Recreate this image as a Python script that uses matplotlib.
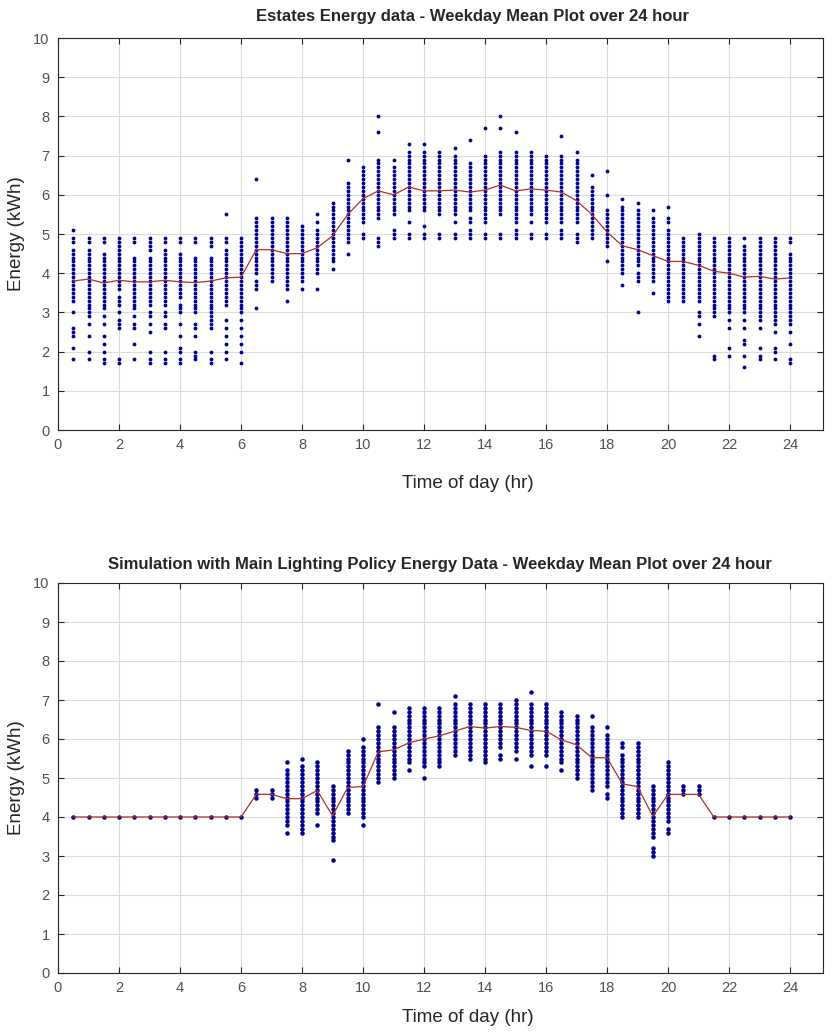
import numpy as np
import matplotlib
matplotlib.use("Agg")
import matplotlib.pyplot as plt

plt.rcParams['font.family'] = ['Liberation Sans', 'DejaVu Sans']

# half-hour slots
hours = [0.5 * i for i in range(1, 49)]

# estates readings per slot, in tenths of kWh
estates_pts = [
    [18,21,24,25,26,30,33,34,35,36,37,38,39,40,41,42,43,44,45,46,48,49,51],
    [18,20,24,27,29,30,31,32,33,34,35,36,37,38,39,40,41,42,43,44,45,46,48,49],
    [17,18,20,22,24,27,29,31,32,33,34,35,36,37,38,39,40,41,42,43,44,45,48,49],
    [17,18,26,27,28,30,32,33,34,36,37,38,39,40,41,42,43,44,45,46,47,48,49],
    [18,22,26,27,29,31,32,33,34,35,36,37,38,39,40,41,42,43,44,48,49],
    [17,18,20,25,27,29,30,32,33,34,35,36,37,38,39,40,41,42,43,44,46,47,48,49],
    [17,18,20,26,27,29,30,32,33,34,35,36,37,38,39,40,41,42,43,44,45,46,48,49],
    [17,18,20,21,24,27,30,31,32,34,35,36,37,38,39,40,41,42,43,44,45,48,49],
    [18,19,20,24,26,27,30,31,32,33,34,35,36,37,38,39,40,41,42,43,44,48,49],
    [17,18,20,26,27,28,29,30,31,32,33,34,35,36,37,38,39,40,41,42,43,44,47,48,49],
    [18,20,22,24,26,28,32,33,34,35,36,37,38,39,40,41,42,43,44,45,46,48,49,55],
    [17,20,22,24,26,28,30,31,32,33,34,35,36,37,38,39,40,41,42,43,44,45,46,47,48,49],
    [31,36,37,38,40,41,42,43,44,45,46,47,48,49,50,51,52,53,54,64],
    [38,39,40,41,42,43,44,45,46,47,48,49,50,51,52,53,54],
    [33,36,37,38,39,40,41,42,43,44,45,46,47,48,49,50,51,52,53,54],
    [36,38,39,40,41,42,43,44,45,46,47,48,49,50,51,52],
    [36,40,41,42,43,44,45,46,47,48,49,50,51,53,55],
    [41,43,44,45,46,47,48,49,50,51,52,53,54,55,56,57,58],
    [45,48,49,50,51,52,53,54,55,56,57,58,59,60,61,62,63,69],
    [49,50,53,54,55,56,57,58,59,60,61,62,63,64,65,66,67],
    [47,48,49,54,55,56,57,58,59,60,61,62,63,64,65,66,67,68,69,76,80],
    [49,50,51,55,56,57,58,59,60,61,62,63,64,65,66,67,69],
    [49,50,53,56,57,58,59,60,61,62,63,64,65,66,67,68,69,70,71,73],
    [49,50,52,56,57,58,59,60,61,62,63,64,65,66,67,68,69,70,71,73],
    [49,50,55,56,57,58,59,60,61,62,63,64,65,66,67,68,69,70,71],
    [49,50,53,55,56,57,58,59,60,61,62,63,64,65,66,67,68,69,70,72],
    [49,50,51,53,54,56,57,58,59,60,61,62,63,64,65,66,67,68,74],
    [49,50,53,54,55,56,57,58,59,60,61,62,63,64,65,66,67,68,69,70,77],
    [49,50,55,56,57,58,59,60,61,62,63,64,65,66,67,68,69,70,71,77,80],
    [49,50,51,53,54,55,56,57,58,59,60,61,62,63,64,65,66,67,68,69,70,71,76],
    [49,50,53,55,56,57,58,59,60,61,62,63,64,65,66,67,68,69,70,71],
    [49,50,53,54,55,56,57,58,59,60,61,62,63,64,65,66,67,68,69,70],
    [49,50,51,53,54,55,56,57,58,59,60,61,62,63,64,65,66,67,68,69,70,75],
    [48,49,50,53,54,55,56,57,58,59,60,61,62,63,64,65,66,67,68,69,71],
    [49,50,51,52,53,54,55,56,57,58,59,60,61,62,65],
    [43,47,48,49,50,51,52,53,54,55,56,60,66],
    [37,40,41,42,43,44,45,46,47,48,49,50,51,52,53,54,55,56,57,59],
    [30,38,39,40,42,43,44,45,46,47,48,49,50,51,52,53,54,55,56,58],
    [35,38,39,40,41,42,43,44,45,46,47,48,49,50,51,52,53,54,56],
    [33,34,35,36,37,38,39,40,41,42,43,44,45,46,47,48,49,50,51,53,54,57],
    [33,34,35,36,37,38,39,40,41,42,43,44,45,46,47,48,49],
    [24,27,29,30,33,34,35,36,37,38,39,40,41,42,43,44,45,46,47,48,49,50],
    [18,19,29,30,31,32,33,34,35,36,37,38,39,40,41,42,43,44,45,46,47,48,49],
    [19,21,26,28,30,31,32,33,34,35,36,37,38,39,40,41,42,43,44,45,46,47,48,49],
    [16,19,22,23,26,28,30,31,32,33,34,35,36,37,38,39,40,41,42,43,44,45,46,47,49],
    [18,19,21,26,28,29,30,31,32,33,34,35,36,37,38,39,40,41,42,43,44,45,46,47,48,49],
    [18,20,21,25,27,28,29,30,31,32,33,34,35,36,37,38,39,40,41,42,43,44,45,46,47,48,49],
    [17,18,22,25,27,28,29,30,31,32,33,34,35,36,37,38,39,40,41,42,43,44,45,48,49],
]
estates_mean = [3.80, 3.85, 3.75, 3.82, 3.78, 3.78, 3.82, 3.78, 3.76, 3.80, 3.88, 3.90,
                4.60, 4.60, 4.50, 4.50, 4.65, 4.95, 5.50, 5.90, 6.10, 6.00, 6.20, 6.10,
                6.10, 6.12, 6.07, 6.12, 6.25, 6.10, 6.15, 6.12, 6.07, 5.85, 5.50, 5.05,
                4.70, 4.60, 4.45, 4.30, 4.30, 4.20, 4.05, 4.00, 3.90, 3.92, 3.85, 3.88]

# simulation readings per slot, in tenths of kWh
sim_pts = [
    [40], [40], [40], [40], [40], [40], [40], [40], [40], [40], [40], [40],
    [45,46,47],
    [45,46,47],
    [36,38,39,40,41,42,43,44,45,46,47,48,49,50,51,52,54],
    [36,37,38,39,40,41,42,43,44,45,46,47,48,49,50,51,52,53,55],
    [38,41,42,43,44,45,46,47,48,49,50,51,52,53,54],
    [29,34,35,36,37,38,39,40,41,42,43,44,45,46,47,48],
    [41,42,43,44,45,46,47,48,49,50,51,52,53,54,55,56,57],
    [38,40,41,42,43,44,45,46,47,48,49,50,51,52,53,54,55,56,57,58,60],
    [49,50,51,52,53,54,55,56,57,58,59,60,61,62,63,69],
    [50,51,52,53,54,55,56,57,58,59,60,61,62,63,67],
    [52,54,55,56,57,58,59,60,61,62,63,64,65,66,67,68],
    [50,53,54,55,56,57,58,59,60,61,62,63,64,65,66,67,68],
    [53,54,55,56,57,58,59,60,61,62,63,64,65,66,67,68],
    [56,57,58,59,60,61,62,63,64,65,66,67,68,69,71],
    [55,56,57,58,59,60,61,62,63,64,65,66,67,68,69],
    [54,55,56,57,58,59,60,61,62,63,64,65,66,67,68,69],
    [55,56,58,59,60,61,62,63,64,65,66,67,68,69],
    [55,57,58,59,60,61,62,63,64,65,66,67,68,69,70],
    [53,56,57,58,59,60,61,62,63,64,65,66,67,68,69,72],
    [53,56,57,58,59,60,61,62,63,64,65,66,67,68,69],
    [52,54,55,56,57,58,59,60,61,62,63,64,65,66,67],
    [50,51,52,53,54,55,56,57,58,59,60,61,62,63,64,65,66],
    [47,48,49,50,51,52,53,54,55,56,57,58,59,60,61,62,63,66],
    [45,46,48,49,50,51,52,53,54,55,56,57,58,59,60,61,63],
    [40,41,42,43,44,45,46,47,48,49,50,51,52,53,54,55,56,58,59],
    [40,41,42,43,44,45,46,47,48,49,50,51,52,53,54,55,56,57,58,59],
    [30,31,32,35,36,37,38,39,40,41,42,43,44,45,46,47,48],
    [36,37,39,40,41,42,43,44,45,46,47,48,49,50,51,52,53,54],
    [46,47,48],
    [46,47,48],
    [40], [40], [40], [40], [40], [40],
]
sim_mean = [4.0] * 12 + [4.58, 4.58, 4.47, 4.47, 4.68, 4.03, 4.76, 4.78, 5.67, 5.72,
                         5.90, 6.00, 6.08, 6.20, 6.32, 6.28, 6.32, 6.30, 6.22, 6.20,
                         5.98, 5.85, 5.52, 5.52, 4.85, 4.78, 4.02, 4.58, 4.58, 4.58] + [4.0] * 6

titles = ["Estates Energy data - Weekday Mean Plot over 24 hour",
          "Simulation with Main Lighting Policy Energy Data - Weekday Mean Plot over 24 hour"]

W, H = 832, 1032
fig = plt.figure(figsize=(W / 100, H / 100), dpi=100)


def px_box(l, t, r, b):
    return [l / W, 1 - b / H, (r - l) / W, (b - t) / H]


def draw_panel(ax, pts, mean, ms):
    xs, ys = [], []
    for h, col in zip(hours, pts):
        xs += [h] * len(col)
        ys += [v / 10 for v in col]
    ax.plot(xs, ys, '.', color='#00008C', ms=ms, mew=0, zorder=2)
    ax.plot(hours, mean, '-', color='#B0302A', lw=0.9, zorder=3)
    ax.set_xlim(0, 25.08)
    ax.set_ylim(0, 10)
    ax.set_xticks(range(0, 25, 2))
    ax.set_yticks(range(0, 11))
    ax.grid(True, color='#DCDCDC', lw=0.8)
    ax.set_axisbelow(True)
    ax.tick_params(direction='in', top=True, right=True, colors='#262626',
                   labelcolor='#505050', labelsize=10.5, length=4, pad=6)
    for s in ax.spines.values():
        s.set_color('#262626')
        s.set_linewidth(0.8)
    ax.set_ylabel('Energy (kWh)', fontsize=13.5, color='#262626', labelpad=6)


ax1 = fig.add_axes(px_box(58, 38, 823, 430))
draw_panel(ax1, estates_pts, estates_mean, 5.5)
ax2 = fig.add_axes(px_box(58, 583, 823, 973))
draw_panel(ax2, sim_pts, sim_mean, 6.5)

fig.text(473 / W, 1 - 17 / H, titles[0], ha='center', va='center',
         fontsize=12, fontweight='bold', color='#262626')
fig.text(440 / W, 1 - 564 / H, titles[1], ha='center', va='center',
         fontsize=12, fontweight='bold', color='#262626')
fig.text(468 / W, 1 - 484 / H, 'Time of day (hr)', ha='center', va='center',
         fontsize=13.5, color='#262626')
fig.text(468 / W, 1 - 1017 / H, 'Time of day (hr)', ha='center', va='center',
         fontsize=13.5, color='#262626')

fig.savefig('out.png', dpi=100)
